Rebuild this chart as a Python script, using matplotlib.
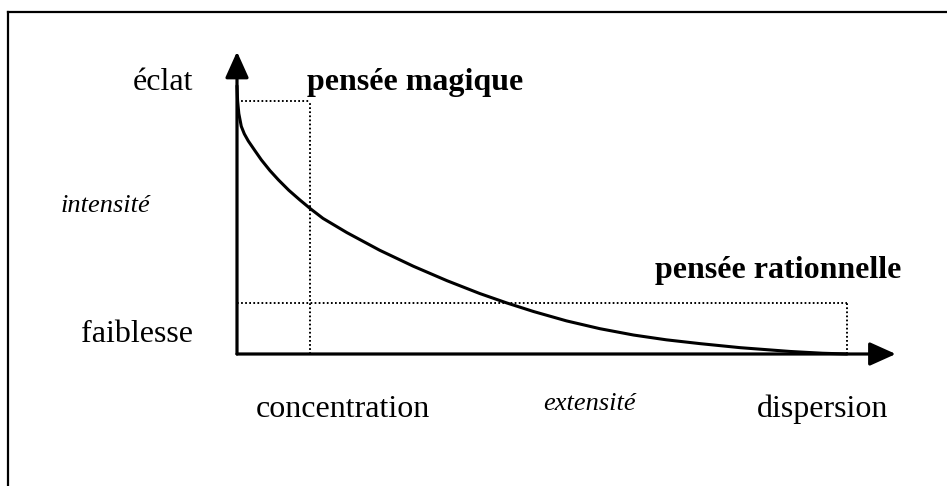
import matplotlib
matplotlib.use('Agg')
import matplotlib.pyplot as plt
from matplotlib.lines import Line2D

plt.rcParams['font.family'] = ['Liberation Serif', 'DejaVu Serif']

# curve intensite / extensite (axis units 0..10)
curve_x = [0.0, 0.01, 0.03, 0.07, 0.12, 0.185, 0.29, 0.40, 0.54, 0.68, 0.85, 1.03, 1.21, 1.41,
           1.80, 2.34, 2.89, 3.44, 3.98, 4.42, 4.86, 5.40, 5.95, 6.50, 7.04, 7.59, 8.25,
           9.07, 9.6, 10.0]
curve_y = [10.6, 10.0, 9.5, 9.0, 8.7, 8.42, 8.05, 7.67, 7.25, 6.88, 6.47, 6.09, 5.73, 5.36,
           4.80, 4.10, 3.47, 2.90, 2.39, 2.02, 1.68, 1.31, 1.00, 0.75, 0.56, 0.41, 0.25,
           0.10, 0.03, 0.0]

# guide points: pensee magique / pensee rationnelle
magique_x, magique_y = 1.2, 10.0
rationnelle_x, rationnelle_y = 10.0, 2.0

y_axis_top = 11.95
x_axis_end = 10.8

labels = [
    # text, x, y, ha, weight, style, size
    ("éclat", -0.72, 10.43, 'right', 'normal', 'normal', 23),
    ("pensée magique", 1.15, 10.43, 'left', 'bold', 'normal', 23),
    ("intensité", -2.885, 5.61, 'left', 'normal', 'italic', 19),
    ("pensée rationnelle", 6.85, 3.0, 'left', 'bold', 'normal', 23),
    ("faiblesse", -0.72, 0.47, 'right', 'normal', 'normal', 23),
    ("concentration", 0.31, -2.49, 'left', 'normal', 'normal', 23),
    ("extensité", 5.02, -2.21, 'left', 'normal', 'italic', 19),
    ("dispersion", 8.52, -2.49, 'left', 'normal', 'normal', 23),
]

fig = plt.figure(figsize=(9.47, 4.86), dpi=100)

# frame (only top and left visible)
fig.add_artist(Line2D([8/947, 8/947], [0, 1 - 12/486], color='black', lw=1.6))
fig.add_artist(Line2D([8/947, 1], [1 - 12/486, 1 - 12/486], color='black', lw=1.6))

ax = fig.add_axes([237/947, 132/486, 610/947, 253/486])
ax.set_xlim(0, 10)
ax.set_ylim(0, 10)
ax.axis('off')

# axes with arrows
arrow = dict(arrowstyle='-|>,head_length=1.6,head_width=0.72', mutation_scale=10,
             lw=2.3, color='black', shrinkA=0, shrinkB=0)
ax.annotate('', xy=(0, y_axis_top), xytext=(0, 0), arrowprops=arrow, annotation_clip=False)
ax.annotate('', xy=(x_axis_end, 0), xytext=(0, 0), arrowprops=arrow, annotation_clip=False)

# dotted guides
dots = dict(color='black', lw=1.4, linestyle=(0, (0.9, 1.2)), clip_on=False)
ax.plot([0, magique_x], [magique_y, magique_y], **dots)
ax.plot([magique_x, magique_x], [0, magique_y], **dots)
ax.plot([0, rationnelle_x], [rationnelle_y, rationnelle_y], **dots)
ax.plot([rationnelle_x, rationnelle_x], [0, rationnelle_y], **dots)

ax.plot(curve_x, curve_y, color='black', lw=2.2, clip_on=False,
        solid_capstyle='round', solid_joinstyle='round')

for txt, x, y, ha, wt, st, sz in labels:
    ax.text(x, y, txt, ha=ha, va='baseline', fontweight=wt, fontstyle=st,
            fontsize=sz, clip_on=False)

plt.savefig('out.png', dpi=100)
